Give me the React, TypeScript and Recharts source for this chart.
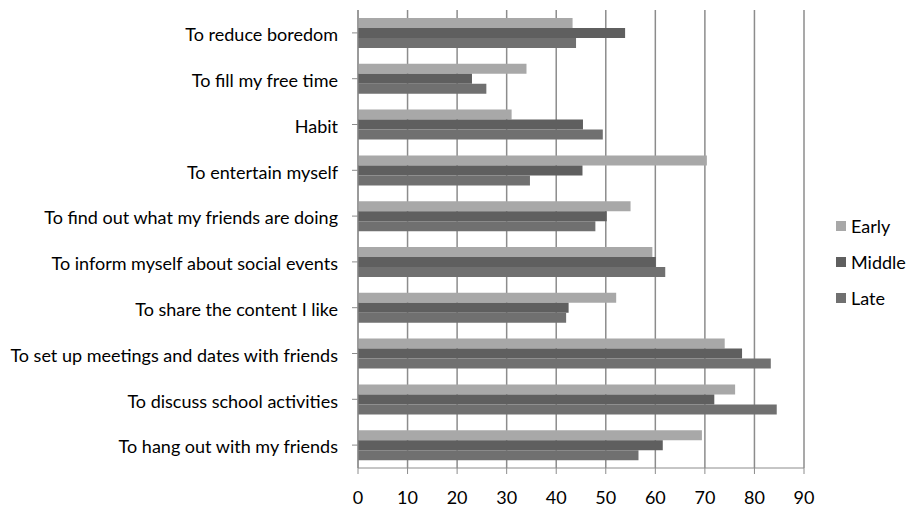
import React from 'react'
import {
  BarChart,
  Bar,
  XAxis,
  YAxis,
  CartesianGrid,
  Legend,
} from 'recharts'

const reasons = [
  'To reduce boredom',
  'To fill my free time',
  'Habit',
  'To entertain myself',
  'To find out what my friends are doing',
  'To inform myself about social events',
  'To share the content I like',
  'To set up meetings and dates with friends',
  'To discuss school activities',
  'To hang out with my friends',
]

const early = [43.3, 34.0, 31.0, 70.4, 55.0, 59.4, 52.1, 74.0, 76.1, 69.4]
const middle = [53.9, 23.0, 45.4, 45.3, 50.2, 60.1, 42.5, 77.5, 71.9, 61.5]
const late = [44.0, 25.9, 49.4, 34.7, 47.9, 62.0, 42.0, 83.3, 84.5, 56.6]

const xTicks = [0, 10, 20, 30, 40, 50, 60, 70, 80, 90]

const series = [
  { key: 'early', name: 'Early', color: '#a8a8a8' },
  { key: 'middle', name: 'Middle', color: '#5f5f5f' },
  { key: 'late', name: 'Late', color: '#707070' },
]

const data = reasons.map((reason, i) => ({
  reason,
  early: early[i],
  middle: middle[i],
  late: late[i],
}))

const font = 'Lato, "Open Sans", sans-serif'

function LegendBox() {
  return (
    <div style={{ fontFamily: font, fontSize: 18, color: '#000' }}>
      {series.map((s) => (
        <div key={s.key} style={{ display: 'flex', alignItems: 'center', height: 36 }}>
          <span
            style={{
              display: 'inline-block',
              width: 10,
              height: 10,
              background: s.color,
              marginRight: 5,
            }}
          />
          {s.name}
        </div>
      ))}
    </div>
  )
}

export default function App() {
  return (
    <div style={{ position: 'absolute', left: 0, top: 0, background: '#fff' }}>
      <BarChart
        width={919}
        height={509}
        data={data}
        layout="vertical"
        margin={{ top: 10, right: 35, bottom: 0, left: 0 }}
        barSize={10}
        barGap={0}
      >
        <CartesianGrid horizontal={false} stroke="#8c8c8c" strokeWidth={1.5} />
        <XAxis
          type="number"
          domain={[0, 90]}
          ticks={xTicks}
          interval={0}
          height={41}
          tickSize={6}
          tickMargin={17}
          stroke="#8c8c8c"
          tick={{ fill: '#000', fontSize: 18, fontFamily: font }}
        />
        <YAxis
          type="category"
          dataKey="reason"
          width={358}
          tickSize={6}
          tickMargin={14}
          interval={0}
          stroke="#8c8c8c"
          tick={{ fill: '#000', fontSize: 18, fontFamily: font, dy: 2 }}
        />
        <Legend
          content={<LegendBox />}
          layout="vertical"
          align="right"
          verticalAlign="top"
          wrapperStyle={{ left: 836, top: 208, width: 80 }}
        />
        {series.map((s) => (
          <Bar
            key={s.key}
            dataKey={s.key}
            name={s.name}
            fill={s.color}
            isAnimationActive={false}
          />
        ))}
      </BarChart>
    </div>
  )
}
